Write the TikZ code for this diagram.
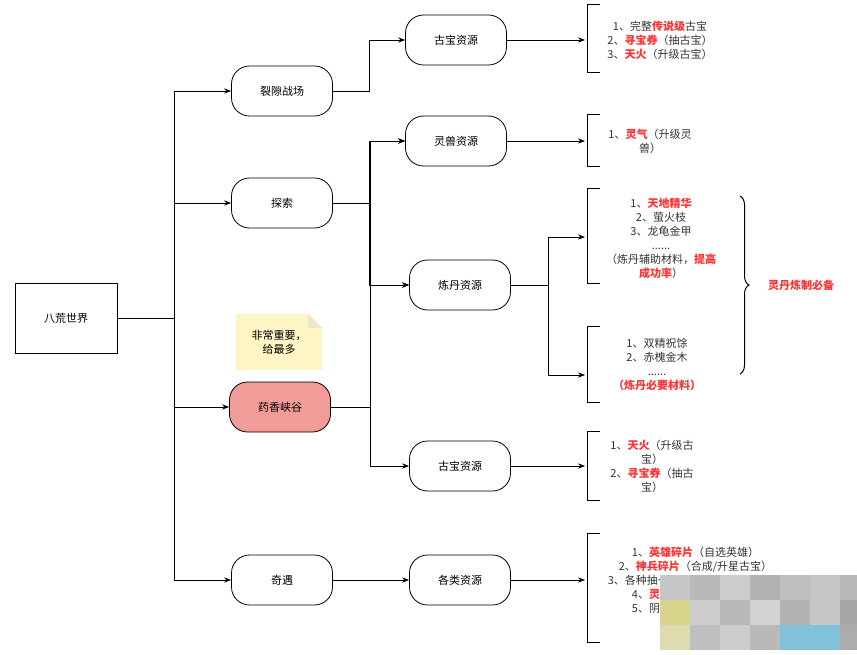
\documentclass[tikz,border=0pt]{standalone}
\usepackage{fontspec}
\setmainfont{Noto Sans CJK SC}
\usetikzlibrary{positioning,arrows.meta,decorations.pathreplacing,shapes.misc}
\definecolor{salmon}{RGB}{241, 156, 153}
\definecolor{notey}{RGB}{255, 244, 195}
\definecolor{hot}{RGB}{255, 51, 51}
\newcommand{\hl}[1]{\textcolor{hot}{\textbf{#1}}}
\tikzset{
  box/.style={draw, thick, rounded corners=18pt, minimum width=101pt, minimum height=50pt, font=\fontsize{11}{13}\selectfont},
  link/.style={draw, line width=0.9pt, -{Stealth[length=7pt]}},
  bar/.style={draw, line width=1pt},
  list/.style={align=center, font=\fontsize{11}{14}\selectfont, text=black!80}
}
\begin{document}
\begin{tikzpicture}[x=1pt, y=-1pt]
  \useasboundingbox (0,0) rectangle (857,655);
  % root and first level
  \node[draw, thick, minimum width=102pt, minimum height=70pt, font=\fontsize{11}{13}\selectfont] (world) at (66,318) {八荒世界};
  \node[box] (rift) at (282,91) {裂隙战场};
  \node[box] (explore) at (282,203) {探索};
  \node[box, fill=salmon] (valley) at (280,407) {药香峡谷};
  \node[box] (luck) at (282,580) {奇遇};
  % notes
  \fill[notey] (236,314) -- (308,314) -- (322,328) -- (322,370) -- (236,370) -- cycle;
  \fill[notey!60!olive!40] (308,314) -- (308,328) -- (322,328) -- cycle;
  \node[align=center, font=\fontsize{11}{14}\selectfont] (note) at (279,342) {非常重要，\\给最多};
  % second level
  \node[box] (relic) at (456,40) {古宝资源};
  \node[box] (beast) at (456,141) {灵兽资源};
  \node[box] (alchemy) at (460,285) {炼丹资源};
  \node[box] (relic2) at (460,466) {古宝资源};
  \node[box] (misc) at (460,580) {各类资源};
  % lists
  \node[list] (l1) at (660,40) {1、完整\hl{传说级}古宝\\2、\hl{寻宝券}（抽古宝）\\3、\hl{天火}（升级古宝）};
  \node[list] (l2) at (650,141) {1、\hl{灵气}（升级灵\\兽）};
  \node[list] (l3) at (661,238) {1、\hl{天地精华}\\2、萤火枝\\3、龙龟金甲\\......\\（炼丹辅助材料，\hl{提高}\\\hl{成功率}）};
  \node[list] (l4) at (657,364) {1、双精祝馀\\2、赤槐金木\\......\\\hl{（炼丹必要材料）}};
  \node[list] (l5) at (652,466) {1、\hl{天火}（升级古\\宝）\\2、\hl{寻宝券}（抽古\\宝）};
  \node[list, align=left] (l6) at (690,580) {\hspace*{2.2em}1、\hl{英雄碎片}（自选英雄）\\\hspace*{1em}2、\hl{神兵碎片}（合成/升星古宝）\\3、各种抽一\\\hspace*{2.2em}4、\hl{灵}\\\hspace*{2.2em}5、阴};
  \node[font=\fontsize{11}{13}\selectfont\bfseries, text=hot] (need) at (801,285) {灵丹炼制必备};
  % brackets
  \foreach \t/\b in {5/73, 115/167, 189/283, 326/402, 431/500, 533/642}
    \draw[bar] (600,\t) -- (587,\t) -- (587,\b) -- (600,\b);
  \draw[bar, decorate, decoration={brace, amplitude=9pt}] (740,196) -- (740,374);
  % connectors
  \coordinate (trunk) at (174,318);
  \draw[line width=0.9pt] (world.east) -- (trunk);
  \draw[line width=0.9pt] (174,91) -- (174,580);
  \foreach \n in {rift, explore, valley, luck}
    \draw[link] (trunk |- \n.west) -- (\n.west);
  \draw[link] (rift.east) -- ++(37,0) |- (relic.west);
  \draw[link] (explore.east) -- ++(37,0) |- (beast.west);
  \draw[link] (explore.east) -- ++(37,0) |- (alchemy.west);
  \draw[link] (valley.east) -- ++(40,0) |- (alchemy.west);
  \draw[link] (valley.east) -- ++(40,0) |- (relic2.west);
  \draw[link] (valley.east) -- ++(40,0) |- (beast.west);
  \draw[link] (luck.east) -- (misc.west);
  \draw[link] (relic.east) -- (585,40);
  \draw[link] (beast.east) -- (585,141);
  \draw[link] (alchemy.east) -- (548,285) |- (585,237);
  \draw[link] (548,285) |- (585,375);
  \draw[link] (relic2.east) -- (585,466);
  \draw[link] (misc.east) -- (585,580);
  % mosaic
  \foreach \x/\y/\c in {660/575/gray!45, 690/575/gray!55, 720/575/gray!40, 750/575/gray!60, 780/575/gray!50, 810/575/gray!45, 840/575/gray!55,
    660/600/yellow!50!gray!70, 690/600/gray!40, 720/600/gray!55, 750/600/gray!35, 780/600/gray!60, 810/600/gray!45, 840/600/gray!70,
    660/625/yellow!40!gray!50, 690/625/gray!50, 720/625/gray!40, 750/625/gray!55, 780/625/cyan!60!gray!70, 810/625/cyan!60!gray!70, 840/625/gray!65}
    \fill[\c] (\x,\y) rectangle ++(30,25);
\end{tikzpicture}
\end{document}
